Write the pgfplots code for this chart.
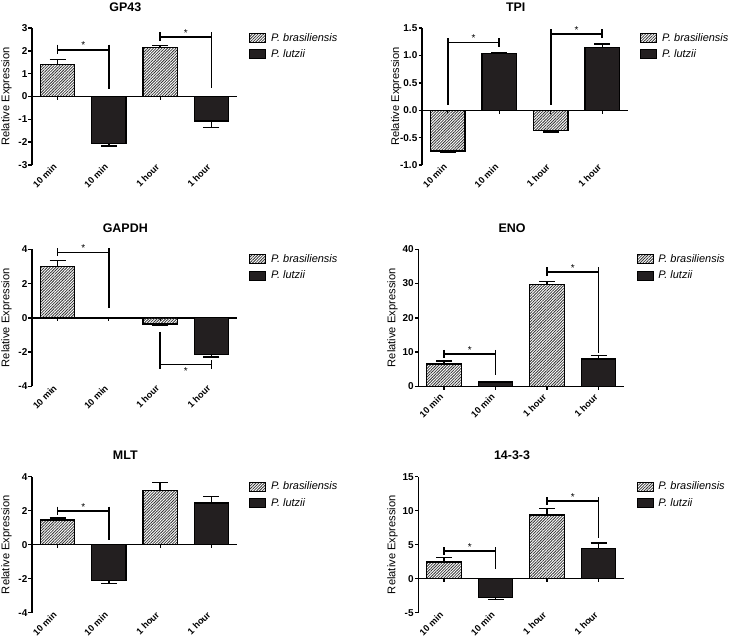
\documentclass[border=0pt]{standalone}
\usepackage{fontspec}
\setmainfont{Liberation Sans}
\usepackage{pgfplots}
\usepackage{pgfplotstable}
\pgfplotsset{compat=1.18}
\usetikzlibrary{patterns.meta}

\definecolor{barblack}{HTML}{231F20}
\definecolor{hatchgray}{HTML}{333333}

% x y error-plus error-minus
\pgfplotstableread{
x y ep em
0 1.40 0.22 0
2 2.15 0.08 0
}\gpA
\pgfplotstableread{
x y ep em
1 -2.07 0 0.10
3 -1.07 0 0.29
}\gpB
\pgfplotstableread{
x y ep em
0 -0.747 0 0.02
2 -0.37 0 0.03
}\tpiA
\pgfplotstableread{
x y ep em
1 1.03 0.02 0
3 1.145 0.06 0
}\tpiB
\pgfplotstableread{
x y ep em
0 2.99 0.35 0
2 -0.37 0 0.06
}\gapA
\pgfplotstableread{
x y ep em
1 0.0 0 0
3 -2.13 0 0.15
}\gapB
\pgfplotstableread{
x y ep em
0 6.54 0.86 0
2 29.76 0.85 0
}\enoA
\pgfplotstableread{
x y ep em
1 1.27 0.2 0
3 8.0 0.98 0
}\enoB
\pgfplotstableread{
x y ep em
0 1.45 0.12 0
2 3.18 0.49 0
}\mltA
\pgfplotstableread{
x y ep em
1 -2.10 0 0.19
3 2.45 0.39 0
}\mltB
\pgfplotstableread{
x y ep em
0 2.45 0.64 0
2 9.36 0.98 0
}\fouA
\pgfplotstableread{
x y ep em
1 -2.80 0 0.30
3 4.46 0.79 0
}\fouB

\tikzset{brk/.style={line width=1.7bp, black}}

\pgfplotsset{
  panel/.style={
    scale only axis, width=205bp, height=137bp,
    anchor=north west,
    axis y line*=left, axis x line*=bottom,
    x axis line style={draw=none},
    y axis line style={line width=1.4bp, black, -},
    xmin=-0.5, xmax=3.5,
    xtick={0,1,2,3}, xticklabels={10 min,10 min,1 hour,1 hour},
    x tick style={draw=none},
    y tick style={line width=1.4bp, black},
    tick align=outside, major tick length=3.5bp,
    xticklabel style={rotate=45, anchor=north east, font=\fontsize{9.2}{11}\selectfont\bfseries, inner sep=0pt, yshift=7.5bp, xshift=0.5bp},
    yticklabel style={font=\fontsize{10}{12}\selectfont\bfseries, inner sep=1bp},
    /pgf/number format/assume math mode=true,
    ylabel={Relative Expression},
    every axis y label/.style={at={(axis description cs:-0.125,0.5)}, rotate=90, anchor=center, font=\fontsize{11.2}{13}\selectfont},
    every axis title/.style={at={(axis description cs:0.455,1)}, anchor=center, yshift=21bp, font=\fontsize{12.5}{15}\selectfont\bfseries},
    legend style={at={(axis description cs:1,1)}, anchor=north west, xshift=12bp, yshift=-3bp, draw=none, fill=none, font=\fontsize{11}{13}\selectfont\itshape, row sep=3bp, inner sep=0pt, column sep=3bp},
    legend cell align=left,
    bar width=0.67,
    clip=false,
  },
  hatchbar/.style={ybar, bar shift=0pt, draw=black, line width=1.3bp, fill=white,
    pattern={Lines[angle=45,distance=2bp,line width=0.8bp]}, pattern color=hatchgray,
    legend image code/.code={\draw[draw=black, line width=1bp, pattern={Lines[angle=45,distance=2bp,line width=0.8bp]}, pattern color=hatchgray] (0bp,-4.5bp) rectangle (16bp,4.5bp);},
    error bars/.cd, y dir=both, y explicit,
    error bar style={line width=1.4bp, black, solid},
    error mark options={rotate=90, mark size=8bp, line width=1.4bp, black}},
  blackbar/.style={ybar, bar shift=0pt, draw=black, line width=1.3bp, fill=barblack,
    legend image code/.code={\draw[draw=black, line width=1bp, fill=barblack] (0bp,-4.5bp) rectangle (16bp,4.5bp);},
    error bars/.cd, y dir=both, y explicit,
    error bar style={line width=1.4bp, black, solid},
    error mark options={rotate=90, mark size=8bp, line width=1.4bp, black}},
}

\newcommand{\zeroline}{%
  \draw[line width=1.4bp] (axis cs:-0.5,0) -- (axis cs:3.5,0);
  \draw[line width=1.2bp] (axis cs:0,0) -- ++(0bp,-3.5bp);
  \draw[line width=1.2bp] (axis cs:1,0) -- ++(0bp,-3.5bp);
  \draw[line width=1.2bp] (axis cs:2,0) -- ++(0bp,-3.5bp);
  \draw[line width=1.2bp] (axis cs:3,0) -- ++(0bp,-3.5bp);}
\newcommand{\sigstar}[2]{\node[anchor=south, inner sep=0.5bp, font=\fontsize{10}{12}\selectfont] at (axis cs:#1,#2) {*};}
\newcommand{\sigstarb}[2]{\node[anchor=north, inner sep=0.5bp, yshift=-2bp, font=\fontsize{10}{12}\selectfont] at (axis cs:#1,#2) {*};}

\begin{document}
\begin{tikzpicture}
\path[use as bounding box] (0bp,0bp) rectangle (737bp,-640bp);

% ---------- GP43 ----------
\begin{axis}[panel, at={(32bp,-28bp)}, title={GP43},
  ymin=-3, ymax=3, ytick={-3,-2,-1,0,1,2,3}]
\zeroline
\addplot[hatchbar] table[x=x, y=y, y error plus=ep, y error minus=em] {\gpA};
\addplot[blackbar] table[x=x, y=y, y error plus=ep, y error minus=em] {\gpB};
\legend{P. brasiliensis, P. lutzii}
\draw[brk] (axis cs:0,2.05) -- (axis cs:1,2.05);
\draw[brk] (axis cs:0,2.27) -- (axis cs:0,1.87);
\draw[brk] (axis cs:1,2.27) -- (axis cs:1,0.32);
\sigstar{0.5}{2.05}
\draw[brk] (axis cs:2,2.61) -- (axis cs:3,2.61);
\draw[brk] (axis cs:2,2.81) -- (axis cs:2,2.41);
\draw[brk] (axis cs:3,2.81) -- (axis cs:3,0.37);
\sigstar{2.5}{2.61}
\end{axis}

% ---------- TPI ----------
\begin{axis}[panel, at={(422bp,-28bp)}, width=206bp, title={TPI},
  ymin=-1, ymax=1.5, ytick={-1,-0.5,0,0.5,1,1.5},
  yticklabel style={/pgf/number format/.cd, fixed, fixed zerofill, precision=1}]
\zeroline
\addplot[hatchbar] table[x=x, y=y, y error plus=ep, y error minus=em] {\tpiA};
\addplot[blackbar] table[x=x, y=y, y error plus=ep, y error minus=em] {\tpiB};
\legend{P. brasiliensis, P. lutzii}
\draw[brk] (axis cs:0,1.237) -- (axis cs:1,1.237);
\draw[brk] (axis cs:0,1.317) -- (axis cs:0,0.09);
\draw[brk] (axis cs:1,1.317) -- (axis cs:1,1.157);
\sigstar{0.5}{1.237}
\draw[brk] (axis cs:2,1.396) -- (axis cs:3,1.396);
\draw[brk] (axis cs:2,1.476) -- (axis cs:2,0.09);
\draw[brk] (axis cs:3,1.476) -- (axis cs:3,1.316);
\sigstar{2.5}{1.396}
\end{axis}

% ---------- GAPDH ----------
\begin{axis}[panel, at={(32bp,-249.3bp)}, title={GAPDH},
  ymin=-4, ymax=4, ytick={-4,-2,0,2,4}]
\zeroline
\addplot[hatchbar] table[x=x, y=y, y error plus=ep, y error minus=em] {\gapA};
\addplot[blackbar] table[x=x, y=y, y error plus=ep, y error minus=em] {\gapB};
\legend{P. brasiliensis, P. lutzii}
\draw[brk] (axis cs:0,3.82) -- (axis cs:1,3.82);
\draw[brk] (axis cs:0,4.06) -- (axis cs:0,3.61);
\draw[brk] (axis cs:1,4.06) -- (axis cs:1,0.6);
\sigstar{0.5}{3.82}
\draw[brk] (axis cs:2,-2.73) -- (axis cs:3,-2.73);
\draw[brk] (axis cs:2,-0.82) -- (axis cs:2,-3.0);
\draw[brk] (axis cs:3,-2.48) -- (axis cs:3,-3.0);
\sigstarb{2.5}{-2.73}
\end{axis}

% ---------- ENO ----------
\begin{axis}[panel, at={(418.3bp,-249.3bp)}, width=206bp, title={ENO},
  ymin=0, ymax=40, ytick={0,10,20,30,40}, xticklabel style={xshift=-6bp, yshift=-6bp}]
\zeroline
\addplot[hatchbar] table[x=x, y=y, y error plus=ep, y error minus=em] {\enoA};
\addplot[blackbar] table[x=x, y=y, y error plus=ep, y error minus=em] {\enoB};
\legend{P. brasiliensis, P. lutzii}
\draw[brk] (axis cs:0,9.37) -- (axis cs:1,9.37);
\draw[brk] (axis cs:0,10.6) -- (axis cs:0,8.2);
\draw[brk] (axis cs:1,10.6) -- (axis cs:1,3.22);
\sigstar{0.5}{9.37}
\draw[brk] (axis cs:2,33.46) -- (axis cs:3,33.46);
\draw[brk] (axis cs:2,34.7) -- (axis cs:2,32.2);
\draw[brk] (axis cs:3,34.7) -- (axis cs:3,9.76);
\sigstar{2.5}{33.46}
\end{axis}

% ---------- MLT ----------
\begin{axis}[panel, at={(32bp,-476.7bp)}, height=136bp, title={MLT},
  ymin=-4, ymax=4, ytick={-4,-2,0,2,4}]
\zeroline
\addplot[hatchbar] table[x=x, y=y, y error plus=ep, y error minus=em] {\mltA};
\addplot[blackbar] table[x=x, y=y, y error plus=ep, y error minus=em] {\mltB};
\legend{P. brasiliensis, P. lutzii}
\draw[brk] (axis cs:0,2.0) -- (axis cs:1,2.0);
\draw[brk] (axis cs:0,2.24) -- (axis cs:0,1.75);
\draw[brk] (axis cs:1,2.24) -- (axis cs:1,0.27);
\sigstar{0.5}{2.0}
\end{axis}

% ---------- 14-3-3 ----------
\begin{axis}[panel, at={(418.3bp,-476.7bp)}, width=206bp, height=136bp, title={14-3-3},
  ymin=-5, ymax=15, ytick={-5,0,5,10,15}]
\zeroline
\addplot[hatchbar] table[x=x, y=y, y error plus=ep, y error minus=em] {\fouA};
\addplot[blackbar] table[x=x, y=y, y error plus=ep, y error minus=em] {\fouB};
\legend{P. brasiliensis, P. lutzii}
\draw[brk] (axis cs:0,4.07) -- (axis cs:1,4.07);
\draw[brk] (axis cs:0,4.6) -- (axis cs:0,3.48);
\draw[brk] (axis cs:1,4.6) -- (axis cs:1,1.37);
\sigstar{0.5}{4.07}
\draw[brk] (axis cs:2,11.42) -- (axis cs:3,11.42);
\draw[brk] (axis cs:2,12.0) -- (axis cs:2,10.83);
\draw[brk] (axis cs:3,12.0) -- (axis cs:3,5.93);
\sigstar{2.5}{11.42}
\end{axis}
\end{tikzpicture}
\end{document}
